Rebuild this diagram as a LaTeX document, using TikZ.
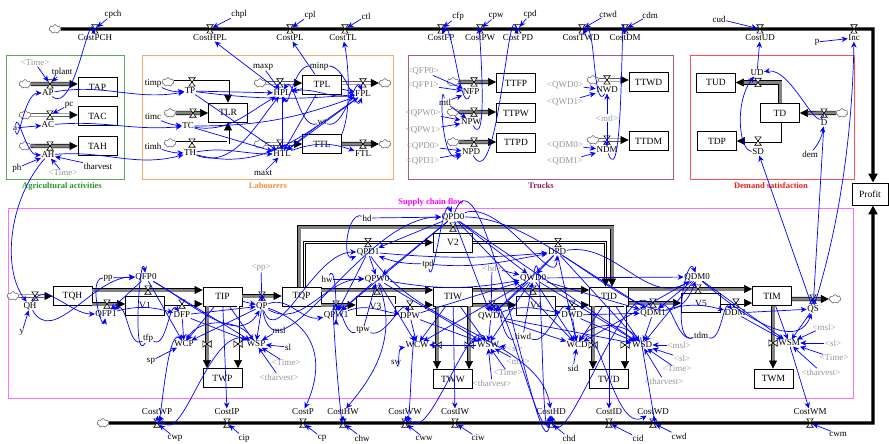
\documentclass[tikz,border=0pt]{standalone}
\usepackage{fontspec}
\setmainfont{Liberation Serif}
\usetikzlibrary{arrows.meta,shapes.symbols,calc}
\definecolor{agr}{RGB}{90,170,90}
\definecolor{agrt}{RGB}{40,150,40}
\definecolor{lab}{RGB}{248,170,110}
\definecolor{labt}{RGB}{245,140,60}
\definecolor{trk}{RGB}{170,90,130}
\definecolor{trkt}{RGB}{140,30,90}
\definecolor{dmd}{RGB}{255,80,80}
\definecolor{dmdt}{RGB}{235,30,30}
\definecolor{scf}{RGB}{255,110,255}
\definecolor{scft}{RGB}{255,0,255}
\definecolor{lg}{RGB}{150,150,150}
\definecolor{pipegray}{RGB}{130,130,130}
\tikzset{
  lbl/.style={font=\fontsize{9}{10}\selectfont, inner sep=0.4pt},
  glbl/.style={lbl, text=lg},
  ttl/.style={font=\fontsize{8.5}{10}\selectfont\bfseries, inner sep=0.5pt},
  stock/.style={draw, line width=0.9pt, fill=white, minimum width=39pt, minimum height=19pt, inner sep=0pt, font=\fontsize{9.5}{10}\selectfont},
  conn/.style={draw=blue, line width=0.7pt, -{Stealth[length=6pt,width=5.5pt]}},
  connv/.style={conn, shorten >=3pt},
  pipe/.style={draw=black, line width=0.6pt, double=pipegray, double distance=3pt, -{Triangle[length=8pt,width=8pt]}},
  pipet/.style={draw=black, line width=0.6pt, double=white, double distance=1.8pt, -{Triangle[length=8pt,width=8pt]}},
  cl/.style={cloud, cloud puffs=7, draw=black!70, line width=0.45pt, fill=white, minimum width=12pt, minimum height=9pt, inner sep=0pt},
  costline/.style={line width=3.2pt, draw=black},
  valve/.pic={\draw[fill=white, line width=0.6pt] (-3.2,-4.2)--(3.2,-4.2)--(-3.2,4.2)--(3.2,4.2)--cycle;},
  hvalve/.pic={\draw[fill=white, line width=0.6pt] (-4.2,-3.2)--(-4.2,3.2)--(4.2,-3.2)--(4.2,3.2)--cycle;},
}
\begin{document}
\begin{tikzpicture}[x=1pt,y=-1pt]
\useasboundingbox (0,0) rectangle (889,444);
% ---------------- group frames
\draw[agr, line width=0.9pt] (6,55) rectangle (124,179);
\node[ttl, text=agrt] (tAgr) at (62,186) {Agricultural activities};
\draw[lab, line width=0.9pt] (142,55) rectangle (393,179);
\node[ttl, text=labt] (tLab) at (268,186) {Labourers};
\draw[trk, line width=0.9pt] (408,55) rectangle (673,179);
\node[ttl, text=trkt] (tTrk) at (541,186) {Trucks};
\draw[dmd, line width=0.9pt] (690,55) rectangle (854,179);
\node[ttl, text=dmdt] (tDem) at (771,186) {Demand satisfaction};
\draw[scf, line width=0.9pt] (8,208) rectangle (853,398);
\node[ttl, text=scft] (tScf) at (431,202) {Supply chain flow};

% ---------------- stocks
\node[stock] (TAP) at (97.5,87) {TAP};
\node[stock] (TAC) at (97.5,116) {TAC};
\node[stock] (TAH) at (97.5,146) {TAH};
\node[stock] (TLR) at (228,112.5) {TLR};
\node[stock] (TPL) at (322,84.5) {TPL};
\node[stock] (TTL) at (322,144) {TTL};
\node[stock] (TTFP) at (516,83) {TTFP};
\node[stock] (TTPW) at (516,113) {TTPW};
\node[stock] (TTPD) at (516,142.5) {TTPD};
\node[stock] (TTWD) at (648.5,82) {TTWD};
\node[stock] (TTDM) at (648.5,141) {TTDM};
\node[stock] (TUD) at (716,82.5) {TUD};
\node[stock] (TD) at (780,113) {TD};
\node[stock] (TDP) at (717,141) {TDP};
\node[stock, minimum width=36pt, minimum height=22pt] (Profit) at (870,194) {Profit};
\node[stock] (TQH) at (72.5,296) {TQH};
\node[stock] (V1) at (145,305.5) {V1};
\node[stock] (TIP) at (222.5,296.5) {TIP};
\node[stock] (TWP) at (222.5,378) {TWP};
\node[stock] (TQP) at (301.5,296.5) {TQP};
\node[stock] (V2) at (453,242.5) {V2};
\node[stock] (V3) at (375.5,306) {V3};
\node[stock] (TIW) at (453,296.5) {TIW};
\node[stock] (TWW) at (453,379) {TWW};
\node[stock] (V4) at (536,305.5) {V4};
\node[stock] (TID) at (609,296.5) {TID};
\node[stock] (TWD) at (609,379) {TWD};
\node[stock] (V5) at (701,303) {V5};
\node[stock] (TIM) at (772,296) {TIM};
\node[stock] (TWM) at (773.5,378.5) {TWM};

% ---------------- clouds
\foreach \n/\x/\y in {cT/55/29, cB/103/423, cAP/25/84, cAC/25/115, cAH/25/146,
  cTP/168/82, cTC/170/113, cTH/170/143, cHPL/260/83, cFPL/385/83, cHTL/260/144, cFTL/385/144,
  cNFP/453/82, cNPW/453/112, cNPD/453/142, cNWD/593/80, cNDM/593/140, cD/842/113,
  cQH/13/296, cQS/835/299}
  \node[cl] (\n) at (\x,\y) {};

% ---------------- valve coordinates
\foreach \n/\x/\y in {vCostPCH/95/29, vCostHPL/210/29, vCostPL/290/29, vCostTL/345/29, vCostFP/441/29,
  vCostPW/480/29, vCostPD/518/29, vCostTWD/582/29, vCostDM/625/29, vCostUD/760/29, vInc/854/29,
  vCostWP/157/423, vCostIP/227/423, vCostP/303/423, vCostHW/343/423, vCostWW/405/423, vCostIW/455/423,
  vCostHD/551/423, vCostID/609/423, vCostWD/653/423, vCostWM/810/423,
  vAP/50/84, vAC/50/115, vAH/50/146,
  vTP/192/82, vTC/193/113, vTH/192/143, vHPL/280/83, vFPL/363/83, vHTL/280/144, vFTL/363/144,
  vNFP/474/82, vNPW/474/112, vNPD/474/142, vNWD/607/80, vNDM/607/140,
  vUD/758/82.5, vD/824/113, vSD/758/141,
  vQH/35/296, vQFP0/148/290, vQFP1/107/304, vDFP/182/304, vQP/262/296,
  vQPD0/453/227, vQPD1/368/242.5, vDPD/558/242.5, vQPW0/377/290, vQPW1/336/305, vDPW/410/305,
  vQWD0/533/290, vQWD1/492/305, vDWD/572/305, vQDM0/698/289, vQDM1/653/303, vDDM/736/303, vQS/813/299,
  vWCP/207/344, vWSP/238/344, vWCW/437/345, vWSW/469/345, vWCD/593/345, vWSD/625/345, vWSM/773/343,
  tr/873/29, br/873/423}
  \coordinate (\n) at (\x,\y);

% ---------------- cost lines
\draw[costline, -{Triangle[length=9pt,width=9pt]}] (cT) -- (tr) -- (Profit.north -| tr);
\draw[costline, -{Triangle[length=9pt,width=9pt]}] (cB) -- (br) -- (Profit.south -| br);

% ---------------- flows (pipes)
\draw[pipe] (cAP) -- (TAP.west |- cAP);
\draw[pipet] (cAC) -- (TAC.west |- cAC);
\draw[pipe] (cAH) -- (TAH.west |- cAH);
\draw[pipet] (cTP) -| (TLR);
\draw[pipe] (cTC) -- (TLR.west |- cTC);
\draw[pipet] (cTH) -| (TLR);
\draw[pipet] (cHPL) -- (TPL.west |- cHPL);
\draw[pipet] (TPL.east |- vFPL) -- (cFPL);
\draw[pipet] (cHTL) -- (TTL.west |- cHTL);
\draw[pipe] (TTL.east |- vFTL) -- (cFTL);
\draw[pipe] (cNFP) -- (TTFP.west |- cNFP);
\draw[pipe] (cNPW) -- (TTPW.west |- cNPW);
\draw[pipe] (cNPD) -- (TTPD.west |- cNPD);
\draw[pipet] (cNWD) -- (TTWD.west |- cNWD);
\draw[pipet] (cNDM) -- (TTDM.west |- cNDM);
\draw[pipe] (cD) -- (TD.east |- cD);
\draw[pipe] (TD.north) |- (TUD.east |- vUD);
\draw[pipet] (TD.south) |- (TDP.east |- vSD);
\draw[pipet] (cQH) -- (TQH.west |- cQH);
\draw[pipe] (TQH.east |- vQFP0) -- (TIP.west |- vQFP0);
\draw[pipe] (TQH.east |- vQFP1) -- (V1.west |- vQFP1);
\draw[pipet] (V1.east |- vDFP) -- (TIP.west |- vDFP);
\draw[pipe] (TIP.east |- vQP) -- (TQP.west |- vQP);
\draw[pipe] ($(TQP.north)+(-2.5,0)$) |- (vQPD0) -| ($(TID.north)+(3,0)$);
\draw[pipet] ($(TQP.north)+(3,0)$) |- (V2.west);
\draw[pipet] (V2.east) -| ($(TID.north)+(-3.5,0)$);
\draw[pipe] (TQP.east |- vQPW0) -- (TIW.west |- vQPW0);
\draw[pipe] (TQP.east |- vQPW1) -- (V3.west |- vQPW1);
\draw[pipet] (V3.east |- vDPW) -- (TIW.west |- vDPW);
\draw[pipe] (TIW.east |- vQWD0) -- (TID.west |- vQWD0);
\draw[pipe] (TIW.east |- vQWD1) -- (V4.west |- vQWD1);
\draw[pipet] (V4.east |- vDWD) -- (TID.west |- vDWD);
\draw[pipe] (TID.east |- vQDM0) -- (TIM.west |- vQDM0);
\draw[pipe] (TID.east |- vQDM1) -- (V5.west |- vQDM1);
\draw[pipet] (V5.east |- vDDM) -- (TIM.west |- vDDM);
\draw[pipe] (TIM.east |- vQS) -- (cQS);
\draw[pipe] (TIP.south -| vWCP) -- (TWP.north -| vWCP);
\draw[pipet] (TIP.south -| vWSP) -- (TWP.north -| vWSP);
\draw[pipe] (TIW.south -| vWCW) -- (TWW.north -| vWCW);
\draw[pipe] (TIW.south -| vWSW) -- (TWW.north -| vWSW);
\draw[pipe] (TID.south -| vWCD) -- (TWD.north -| vWCD);
\draw[pipet] (TID.south -| vWSD) -- (TWD.north -| vWSD);
\draw[pipe] (TIM.south -| vWSM) -- (TWM.north -| vWSM);

% ---------------- valves
\foreach \v in {vCostPCH, vCostHPL, vCostPL, vCostTL, vCostFP, vCostPW, vCostPD, vCostTWD, vCostDM, vCostUD, vInc,
  vCostWP, vCostIP, vCostP, vCostHW, vCostWW, vCostIW, vCostHD, vCostID, vCostWD, vCostWM,
  vAP, vAC, vAH, vTP, vTC, vTH, vHPL, vFPL, vHTL, vFTL, vNFP, vNPW, vNPD, vNWD, vNDM, vUD, vD, vSD,
  vQH, vQFP0, vQFP1, vDFP, vQP, vQPD0, vQPD1, vDPD, vQPW0, vQPW1, vDPW, vQWD0, vQWD1, vDWD,
  vQDM0, vQDM1, vDDM, vQS}
  \pic at (\v) {valve};
\foreach \v in {vWCP, vWSP, vWCW, vWSW, vWCD, vWSD, vWSM}
  \pic at (\v) {hvalve};

% ---------------- labels (black)
\foreach \n/\x/\y/\t in {
  CostPCH/95/38/CostPCH, cpch/113/14/cpch, CostHPL/210/38/CostHPL, chpl/239/14/chpl,
  CostPL/290/38/CostPL, cpl/310/15/cpl, CostTL/343/38/CostTL, ctl/366/16/ctl,
  CostFP/441/38/CostFP, cfp/458/16/cfp, CostPW/480/38/CostPW, cpw/496/16/cpw,
  CostPD/518/38/Cost PD, cpd/530/14/cpd, CostTWD/581/38/CostTWD, ctwd/608/14/ctwd,
  CostDM/625/38/CostDM, cdm/650/15/cdm, CostUD/760/38/CostUD, cud/719/19/cud,
  Inc/854/38/Inc, p/817/42/p,
  CostWP/157/412/CostWP, cwp/175/438/cwp, CostIP/227/412/CostIP, cip/244/438/cip,
  CostP/303/412/CostP, cp/322/438/cp, CostHW/343/412/CostHW, chw/362/438/chw,
  CostWW/405/412/CostWW, cww/424/438/cww, CostIW/455/412/CostIW, ciw/478/438/ciw,
  CostHD/551/412/CostHD, chd/569/438/chd, CostID/609/412/CostID, cid/638/438/cid,
  CostWD/653/412/CostWD, cwd/679/436/cwd, CostWM/810/412/CostWM, cwm/838/434/cwm,
  tplant/62/72/tplant, AP/48/93/AP, pc/69/105/pc, AC/48/125/AC, a/15/128/a, AH/48/155/AH,
  ph/17/168/ph, tharvest/98/166/tharvest,
  timp/153/83/timp, TP/190/91/TP, timc/153/117/timc, TC/188/126/TC, timh/153/146/timh, TH/190/153/TH,
  maxp/263/67/maxp, HPL/282/93/HPL, minp/319/66/minp, FPL/363/94/FPL, wt/322/122/wt,
  HTL/282/154/HTL, FTL/363/154/FTL, maxt/263/173/maxt,
  NFP/471/92/NFP, mtl/445/102/mtl, NPW/471/122/NPW, NPD/471/152/NPD, NWD/607/90/NWD, NDM/607/150/NDM,
  UD/757/73/UD, D/824/123/D, SD/758/152/SD, dem/810/154/dem,
  QH/30/306/QH, y/22/332/y, pp/108/278/pp, QFP0/146/277/QFP0, QFP1/106/314/QFP1, DFP/182/315/DFP,
  tfp/148/338/tfp, WCP/184/344/WCP, WSP/256/344/WSP, sp/151/361/sp, QP/262/306/QP,
  msl/279/330/msl, sl/288/347/sl,
  hd/367/218/hd, QPD0/453/217/QPD0, QPD1/368/252/QPD1, tpd/428/264/tpd, hw/327/279/hw,
  QPW0/377/279/QPW0, QPW1/336/315/QPW1, DPW/410/316/DPW, tpw/363/330/tpw,
  WCW/417/345/WCW, WSW/488/345/WSW, sw/396/362/sw,
  QWD0/533/278/QWD0, DPD/557/252/DPD, QWD1/491/316/QWD1, DWD/572/315/DWD, tiwd/523/336/tiwd,
  WCD/577/345/WCD, WSD/642/345/WSD, sid/573/368/sid,
  QDM0/697/277/QDM0, QDM1/653/313/QDM1, DDM/735/313/DDM, tdm/701/335/tdm, QS/813/309/QS, WSM/789/343/WSM}
  \node[lbl] (\n) at (\x,\y) {\t};

% ---------------- labels (grey shadow variables)
\foreach \n/\x/\y/\t in {
  gTime1/35/63/{<Time>}, gTime2/63/173/{<Time>},
  gQFP0/423/71/{<QFP0>}, gQFP1/423/85/{<QFP1>}, gQPW0/423/113/{<QPW0>}, gQPW1/423/130/{<QPW1>},
  gQPD0/423/146/{<QPD0>}, gQPD1/423/161/{<QPD1>}, gQWD0/565/85/{<QWD0>}, gQWD1/565/102/{<QWD1>},
  gmtl/607/118/{<mtl>}, gQDM0/565/145/{<QDM0>}, gQDM1/565/161/{<QDM1>},
  gpp/261/268/{<pp>}, gTime3/286/363/{<Time>}, gtharv1/279/377/{<tharvest>},
  ghd/492/268/{<hd>}, gsl2/515/348/{<sl>}, gmsl2/518/361/{<msl>}, gTime4/508/373/{<Time>}, gtharv2/492/383/{<tharvest>},
  gmsl3/679/345/{<msl>}, gsl3/682/358/{<sl>}, gTime5/677/369/{<Time>}, gtharv3/664/381/{<tharvest>},
  gmsl4/824/327/{<msl>}, gsl4/833/343/{<sl>}, gTime6/834/358/{<Time>}, gtharv4/821/372/{<tharvest>}}
  \node[glbl] (\n) at (\x,\y) {\t};

% ---------------- connectors: costs
\foreach \s/\t in {cpch/vCostPCH, chpl/vCostHPL, cpl/vCostPL, ctl/vCostTL, cfp/vCostFP, cpw/vCostPW,
  cpd/vCostPD, ctwd/vCostTWD, cdm/vCostDM, cud/vCostUD, cwp/vCostWP, cip/vCostIP, cp/vCostP,
  chw/vCostHW, cww/vCostWW, ciw/vCostIW, chd/vCostHD, cid/vCostID, cwd/vCostWD, cwm/vCostWM}
  \draw[connv] (\s) -- (\t);
\draw[conn] (p) -- (Inc);
\draw[conn] (AP) to[out=-40,in=100] (CostPCH);
\draw[conn] (HPL) -- (CostHPL);
\draw[conn] (TPL) -- (CostPL);
\draw[conn] (TTL.north east) .. controls (352,110) and (348,60) .. (CostTL);
\draw[conn] (NFP) to[out=250,in=70] (CostFP);
\draw[conn] (NPW) to[out=-60,in=95] (CostPW);
\draw[conn] (NPD) to[out=-60,in=100] (CostPD);
\draw[conn] (NWD) to[out=-120,in=60] (CostTWD);
\draw[conn] (NDM) to[out=-70,in=95] (CostDM);
\draw[conn] (UD) -- (CostUD);
\draw[conn] (QS) .. controls (835,240) and (852,150) .. (Inc);

% ---------------- connectors: agriculture
\foreach \s/\t in {gTime1/vAP, tplant/vAP, pc/vAC}
  \draw[connv] (\s) -- (\t);
\draw[conn] (a) to[out=-80,in=180] (AP);
\draw[conn] (a) -- (AC);
\draw[conn] (a) to[out=80,in=180] (AH);
\draw[conn] (ph) -- (AH);
\draw[conn] (gTime2) -- (AH);
\draw[conn] (tharvest) -- (AH);
\draw[conn] (AP) to[out=10,in=190] (TP);
\draw[conn] (AC) to[out=5,in=185] (TC);
\draw[conn] (AH) to[out=5,in=195] (TH);
\draw[conn] (AH) .. controls (8,200) and (2,270) .. (QH);

% ---------------- connectors: labourers
\draw[conn] (timp) to[bend right=15] (TP);
\draw[conn] (timc) to[bend right=10] (TC);
\draw[conn] (timh) to[bend right=10] (TH);
\draw[conn] (TP) -- (HPL);
\draw[conn] (TP) -- (HTL);
\draw[conn] (TP) to[bend right=6] (FPL);
\draw[conn] (TC) to[out=-10,in=210] (HPL);
\draw[conn] (TC) -- (HTL);
\draw[conn] (TC) to[out=0,in=200] (FPL);
\draw[conn] (TH) to[out=-20,in=230] (HPL);
\draw[conn] (TH) to[out=10,in=180] (HTL);
\draw[conn] (TH) to[out=-15,in=215] (FPL);
\draw[conn] (maxp) -- (HPL);
\draw[conn] (minp) to[out=180,in=-70] (HPL);
\draw[conn] (minp) to[out=0,in=-110] (FPL);
\draw[conn] (TPL) -- (HPL);
\draw[conn] (TPL) -- (HTL);
\draw[conn] (TPL) -- (FPL);
\draw[conn] (wt) to[out=200,in=60] (HPL);
\draw[conn] (wt) to[out=-20,in=110] (FPL);
\draw[conn] (wt) -- (HTL);
\draw[conn] (FPL) to[out=190,in=10] (HPL);
\draw[conn] (FPL) -- (HTL);
\draw[conn] (HPL) -- (HTL);
\draw[conn] (maxt) -- (HTL);
\draw[conn] (HTL) to[out=20,in=160] (FTL);

% ---------------- connectors: trucks & demand
\foreach \s/\t in {gQFP0/NFP, gQFP1/NFP, mtl/NFP, mtl/NPW, gQPW0/NPW, gQPW1/NPW, gQPD0/NPD, gQPD1/NPD,
  gQWD0/NWD, gQWD1/NWD, gmtl/NWD, gmtl/NDM, gQDM0/NDM, gQDM1/NDM}
  \draw[conn] (\s) -- (\t);
\draw[conn] (mtl) to[out=100,in=200] (NPD);
\draw[conn] (dem) to[bend right=15] (D);
\draw[conn] (vD) to[out=-100,in=10] (UD);
\draw[conn] (SD) .. controls (738,150) and (735,100) .. (UD);
\draw[conn] (QS) -- (SD);
\draw[conn] (D) -- (QS);

% ---------------- connectors: supply chain, left
\draw[conn] (y) -- (QH);
\draw[conn] (QH) to[out=-60,in=180] (QFP0);
\draw[conn] (QH) to[out=60,in=180] (QFP1);
\draw[conn] (pp) -- (QFP0);
\draw[conn] (pp) to[out=180,in=-100] (QFP1);
\draw[conn] (QFP0) -- (QFP1);
\draw[conn] (QFP0) to[out=-30,in=-120] (QP);
\draw[conn] (QFP0) -- (WCP);
\draw[conn] (QFP0) -- (WSP);
\draw[conn] (tfp) to[out=240,in=100] (QFP0);
\draw[conn] (tfp) to[out=210,in=30] (QFP1);
\draw[conn] (tfp) to[out=-30,in=130] (DFP);
\draw[conn] (QFP1) to[out=15,in=165] (DFP);
\foreach \s/\t in {DFP/QP, DFP/WCP, DFP/WSP, TIP/WCP, TIP/WSP, TIP/QP, sp/WCP, QP/WCP, QP/WSP, gpp/QP,
  msl/WSP, sl/WSP, gTime3/WSP, gtharv1/WSP, TIP/CostIP}
  \draw[conn] (\s) -- (\t);
\draw[conn] (WSP) to[out=120,in=60] (WCP);
\draw[conn] (WCP) to[out=120,in=-85] (CostWP);
\draw[conn] (WSP) to[out=150,in=-60] (CostWP);
\draw[conn] (QP) .. controls (330,330) and (318,380) .. (CostP);

% ---------------- connectors: supply chain, middle
\draw[conn] (hd) -- (QPD0);
\draw[conn] (hd) to[out=160,in=200] (QPD1);
\draw[conn] (QP) to[out=-70,in=180] (QPD1);
\draw[conn] (QP) to[out=-80,in=180] (QPD0);
\draw[conn] (QP) to[out=-30,in=180] (QPW0);
\draw[conn] (QP) to[out=20,in=190] (QPW1);
\draw[conn] (QPD0) to[out=20,in=-90] (DPD);
\draw[conn] (QPD0) to[out=0,in=-110] (QDM0);
\draw[conn] (QPD0) to[out=70,in=-95] (CostHD);
\draw[conn] (QPD1) to[out=-5,in=185] (DPD);
\draw[conn] (tpd) to[bend left=10] (QPD1);
\draw[conn] (tpd) to[out=-5,in=190] (DPD);
\draw[conn] (tpd) to[out=-80,in=110] (QPD0);
\draw[conn] (hw) to[out=60,in=-90] (QPW1);
\draw[conn] (QPW0) to[out=-10,in=190] (QWD0);
\draw[conn] (QPW1) to[out=20,in=170] (DPW);
\draw[conn] (tpw) to[out=200,in=80] (QPW1);
\draw[conn] (tpw) to[out=-20,in=110] (DPW);
\draw[conn] (sw) to[out=-70,in=190] (WCW);
\draw[conn] (WCW) to[out=100,in=-80] (CostWW);
\draw[conn] (WSW) to[out=110,in=-60] (CostWW);
\draw[conn] (QPW1) to[out=100,in=-90] (CostHW);
\draw[conn] (QPW0) .. controls (400,340) and (370,380) .. (CostHW);
\draw[conn] (QPD1) .. controls (420,330) and (540,340) .. (CostHD);
\foreach \s/\t in {QPD0/QPD1, QPD0/QPW0, QPD0/QPW1, QPD0/QWD0, QPD0/QWD1, QPD0/WSD, QPD0/WCD,
  QPD1/QPW0, QPD1/QPW1, hw/QPW0, QPW0/QPW1, QPW0/WCW, QPW0/WSW, tpw/QPW0,
  DPW/WCW, DPW/WSW, DPW/QWD0, TIW/WCW, TIW/WSW, TIW/CostIW,
  gsl2/WSW, gmsl2/WSW, gTime4/WSW, gtharv2/WSW, WSW/WCW}
  \draw[conn] (\s) -- (\t);

% ---------------- connectors: supply chain, right
\foreach \s/\t in {DPD/QWD0, DPD/QWD1, DPD/QDM1, DPD/WCD, DPD/WSD, ghd/QWD0, ghd/QWD1,
  QWD0/QWD1, QWD0/QDM0, QWD0/QDM1, QWD0/WCD, QWD0/WSD, QWD0/WSW, QWD0/WCW, tiwd/QWD0,
  QWD1/WCD, QWD1/WSD, QWD1/WSW, DWD/QDM1, DWD/WCD, DWD/WSD, TID/WCD, TID/WSD, TID/CostID,
  sid/WCD, gmsl3/WSD, gsl3/WSD, gTime5/WSD, gtharv3/WSD,
  QDM0/QDM1, QDM0/WSD, QDM0/WCD, QDM0/WSM, QDM1/WSD, DDM/QS, DDM/WSM, TIM/WSM, QS/WSM,
  gmsl4/WSM, gsl4/WSM, gTime6/WSM, gtharv4/WSM, WSM/CostWM}
  \draw[conn] (\s) -- (\t);
\draw[conn] (DPD) to[out=10,in=-150] (QDM0);
\draw[conn] (tiwd) to[out=200,in=60] (QWD1);
\draw[conn] (tiwd) to[out=-20,in=120] (DWD);
\draw[conn] (QWD1) to[out=20,in=170] (DWD);
\draw[conn] (WSD) to[out=120,in=60] (WCD);
\draw[conn] (WCD) to[out=60,in=-150] (CostWD);
\draw[conn] (WSD) to[out=100,in=-80] (CostWD);
\draw[conn] (QWD0) to[out=80,in=-100] (CostHD);
\draw[conn] (QWD1) to[out=80,in=-100] (CostHD);
\draw[conn] (QDM1) to[out=110,in=-80] (CostHD);
\draw[conn] (QDM0) to[out=-40,in=-110] (QS);
\draw[conn] (tdm) to[out=200,in=110] (QDM0);
\draw[conn] (tdm) to[out=200,in=40] (QDM1);
\draw[conn] (tdm) to[out=-20,in=130] (DDM);
\draw[conn] (QDM1) to[out=15,in=165] (DDM);
\end{tikzpicture}
\end{document}
